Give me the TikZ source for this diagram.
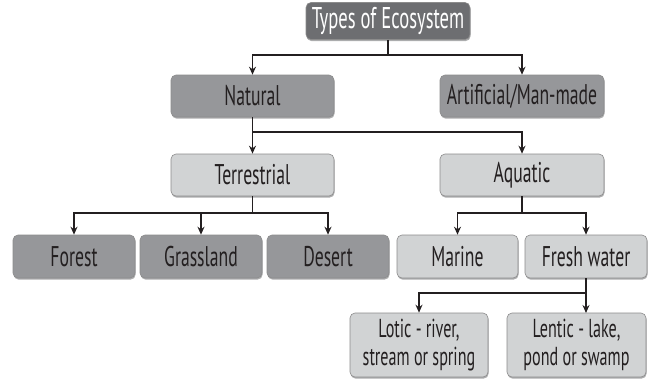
\documentclass[tikz,border=0pt]{standalone}
\usepackage{fontspec}
\setmainfont{PT Sans}[FakeStretch=0.62]
\usetikzlibrary{arrows.meta,shadows}
\definecolor{ink}{HTML}{231F20}
\definecolor{darkbox}{HTML}{6D6E71}
\definecolor{midbox}{HTML}{96979A}
\definecolor{lightbox}{HTML}{D1D3D4}
\definecolor{shade}{HTML}{58595B}
\tikzset{
  box/.style={rounded corners=5pt, draw=black!45, line width=0.6pt, text=ink,
    inner sep=0pt, align=center, font=\fontsize{28.5}{30}\selectfont,
    drop shadow={shadow xshift=0.6pt, shadow yshift=-1.6pt, fill=shade}},
  topbox/.style={box, fill=darkbox, text=white, font=\fontsize{30}{32}\selectfont},
  midb/.style={box, fill=midbox},
  lightb/.style={box, fill=lightbox},
  conn/.style={draw=ink, line width=1.3pt},
  arr/.style={conn, -{Stealth[length=8pt,width=7pt]}}
}
\begin{document}
\begin{tikzpicture}[x=1pt,y=-1pt]
\useasboundingbox (0,0) rectangle (651,381);
\node[topbox, minimum width=164pt, minimum height=37pt] (top) at (388,21) {Types of Ecosystem};
\node[midb, minimum width=163pt, minimum height=42pt] (nat) at (252.5,96) {Natural};
\node[midb, minimum width=164pt, minimum height=42pt] (art) at (522,96) {Artificial/Man-made};
\node[lightb, minimum width=163pt, minimum height=42pt] (ter) at (252.5,175) {Terrestrial};
\node[lightb, minimum width=164pt, minimum height=42pt] (aqu) at (522,175) {Aquatic};
\node[midb, minimum width=122pt, minimum height=43pt] (for) at (74,256.5) {Forest};
\node[midb, minimum width=122pt, minimum height=43pt] (gra) at (201,256.5) {Grassland};
\node[midb, minimum width=122pt, minimum height=43pt] (des) at (328,256.5) {Desert};
\node[lightb, minimum width=121pt, minimum height=43pt] (mar) at (457.5,256.5) {Marine};
\node[lightb, minimum width=122pt, minimum height=43pt] (fre) at (586,256.5) {Fresh water};
\node[lightb, minimum width=138pt, minimum height=64pt, font=\fontsize{26}{28}\selectfont] (lot) at (419,345) {Lotic - river,\\stream or spring};
\node[lightb, minimum width=139pt, minimum height=64pt, font=\fontsize{26}{28}\selectfont] (len) at (576.5,345) {Lentic - lake,\\pond or swamp};
% connectors
\coordinate (j1) at (388,55);
\draw[conn] (top.south) -- (j1);
\draw[arr] (j1) -| (nat.north);
\draw[arr] (j1) -| (art.north);
\coordinate (j2) at (252.5,132);
\draw[conn] (nat.south) -- (j2);
\draw[arr] (j2) -- (ter.north);
\draw[arr] (j2) -| (aqu.north);
\coordinate (j3) at (252.5,213);
\draw[conn] (ter.south) -- (j3);
\draw[arr] (j3) -| (for.north);
\draw[arr] (j3) -| (gra.north);
\draw[arr] (j3) -| (des.north);
\coordinate (j4) at (522,213);
\draw[conn] (aqu.south) -- (j4);
\draw[arr] (j4) -| (mar.north);
\draw[arr] (j4) -| (fre.north);
\coordinate (j5) at (586,293);
\draw[conn] (fre.south) -- (j5);
\draw[arr] (j5) -| (lot.north);
\draw[arr] (j5) -- (586,313) coordinate (lenin);
\end{tikzpicture}
\end{document}
